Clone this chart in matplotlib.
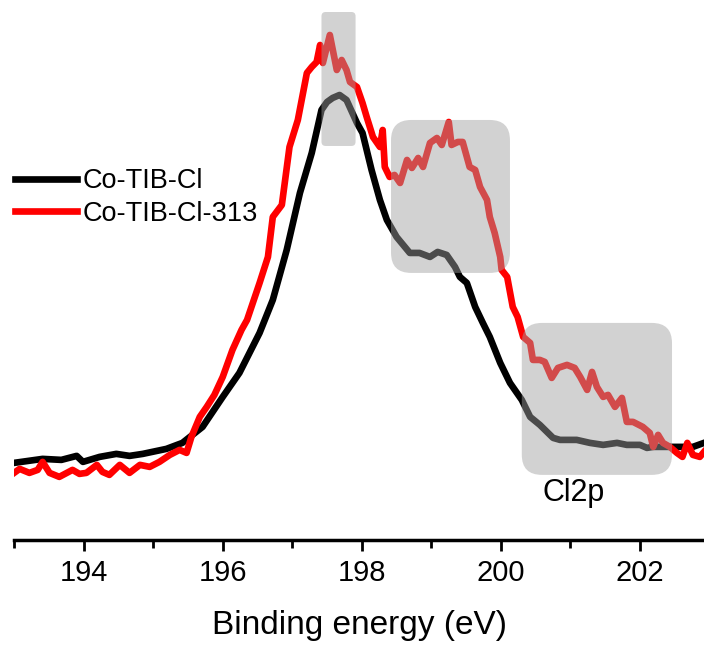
import numpy as np
import matplotlib
matplotlib.use('Agg')
import matplotlib.pyplot as plt
from matplotlib.patches import FancyBboxPatch

plt.rcParams['font.family'] = ['Liberation Sans', 'DejaVu Sans']

# Co-TIB-Cl (black)
e_black = [193.00, 193.41, 193.68, 193.90, 193.99, 194.23, 194.47, 194.66, 194.85, 195.19,
           195.42, 195.71, 196.00, 196.24, 196.53, 196.72, 196.92, 197.11, 197.28, 197.42,
           197.50, 197.58, 197.68, 197.78, 197.93, 198.01, 198.14, 198.26, 198.36, 198.50,
           198.69, 198.83, 198.98, 199.09, 199.22, 199.34, 199.41, 199.51, 199.63, 199.74,
           199.84, 199.99, 200.13, 200.30, 200.42, 200.56, 200.75, 200.85, 201.09, 201.28,
           201.47, 201.67, 201.81, 202.00, 202.10, 202.19, 202.43, 202.58, 202.76, 202.92]
i_black = [77, 81, 80, 84, 78, 83, 86, 84, 86, 91,
           97, 113, 143, 167, 207, 240, 290, 347, 387, 430,
           438, 442, 445, 440, 417, 407, 370, 340, 320, 303,
           287, 287, 283, 288, 285, 273, 263, 257, 233, 217,
           203, 177, 157, 140, 123, 115, 102, 100, 100, 97,
           95, 97, 95, 95, 92, 93, 93, 93, 93, 97]

# Co-TIB-Cl-313 (red)
e_red = [193.00, 193.08, 193.22, 193.34, 193.41, 193.51, 193.65, 193.84, 193.94, 194.04,
         194.19, 194.27, 194.37, 194.52, 194.66, 194.81, 194.95, 195.09, 195.24, 195.38,
         195.48, 195.55, 195.67, 195.77, 195.88, 196.00, 196.14, 196.27, 196.35, 196.53,
         196.65, 196.72, 196.85, 196.96, 197.08, 197.21, 197.28, 197.35, 197.40, 197.44,
         197.54, 197.64, 197.71, 197.78, 197.83, 197.93, 198.01, 198.07, 198.16, 198.22,
         198.26, 198.30, 198.33, 198.40, 198.47, 198.55, 198.65, 198.72, 198.81, 198.88,
         198.98, 199.08, 199.15, 199.25, 199.29, 199.38, 199.45, 199.55, 199.63, 199.70,
         199.80, 199.84, 199.91, 199.99, 200.01, 200.09, 200.17, 200.24, 200.32, 200.42,
         200.46, 200.56, 200.63, 200.73, 200.82, 200.95, 201.06, 201.14, 201.24, 201.31,
         201.38, 201.47, 201.54, 201.64, 201.74, 201.81, 201.90, 202.04, 202.14, 202.19,
         202.26, 202.33, 202.43, 202.53, 202.61, 202.68, 202.76, 202.86, 202.92]
i_red = [67, 71, 67, 70, 78, 67, 63, 70, 66, 67,
         75, 68, 65, 75, 67, 75, 73, 78, 85, 90,
         87, 103, 123, 133, 145, 163, 190, 210, 220, 257,
         283, 323, 335, 393, 420, 467, 473, 478, 495, 477,
         505, 470, 480, 470, 458, 453, 437, 423, 403, 397,
         393, 410, 373, 363, 365, 357, 380, 372, 382, 373,
         397, 402, 395, 418, 395, 398, 398, 373, 370, 353,
         340, 323, 307, 283, 270, 263, 233, 223, 203, 197,
         180, 180, 178, 162, 172, 175, 172, 163, 150, 168,
         153, 143, 145, 133, 142, 118, 118, 113, 107, 93,
         105, 97, 93, 87, 83, 97, 85, 83, 88]

# highlighted regions: energy start/end, intensity low/high
zone_e0 = [197.42, 198.42, 200.30]
zone_e1 = [197.91, 200.13, 202.46]
zone_i0 = [394, 267, 65]
zone_i1 = [528, 420, 217]
zone_round = [0.06, 0.29, 0.29]

fig = plt.figure(figsize=(7.04, 6.45), dpi=100)
ax = fig.add_axes([0.02, 0.163, 0.98, 0.837])

ax.plot(e_black, i_black, color='black', lw=4.8, label='Co-TIB-Cl', solid_joinstyle='round')
ax.plot(e_red, i_red, color='red', lw=4.8, label='Co-TIB-Cl-313', solid_joinstyle='round')

ax.set_xlim(193, 202.92)
ax.set_ylim(0, 540)
px_ratio = 69.5  # y-units per x-unit for square rounding
for e0, e1, y0, y1, r in zip(zone_e0, zone_e1, zone_i0, zone_i1, zone_round):
    box = FancyBboxPatch((e0, y0), e1 - e0, y1 - y0,
                         boxstyle=f'round,pad=0,rounding_size={r}',
                         mutation_aspect=px_ratio,
                         facecolor='#a0a0a0', edgecolor='none', alpha=0.47, zorder=5)
    ax.add_patch(box)

ax.text(201.05, 47, 'Cl2p', fontsize=22, ha='center', va='center')

ax.set_xticks([194, 196, 198, 200, 202])
ax.set_xticks([193, 195, 197, 199, 201], minor=True)
ax.tick_params(axis='x', which='major', direction='out', length=8, width=2, labelsize=21, pad=6)
ax.tick_params(axis='x', which='minor', direction='out', length=6, width=2)
ax.set_yticks([])
for s in ['top', 'left', 'right']:
    ax.spines[s].set_visible(False)
ax.spines['bottom'].set_linewidth(2.5)
ax.set_xlabel('Binding energy (eV)', fontsize=24, labelpad=16)

ax.legend(loc='upper left', bbox_to_anchor=(15 / 704, 1 - 168 / 645),
          bbox_transform=fig.transFigure, frameon=False, fontsize=19.5,
          handlelength=2.3, handletextpad=0.2, labelspacing=0.25,
          borderpad=0, borderaxespad=0)

fig.savefig('out.png', dpi=100)
